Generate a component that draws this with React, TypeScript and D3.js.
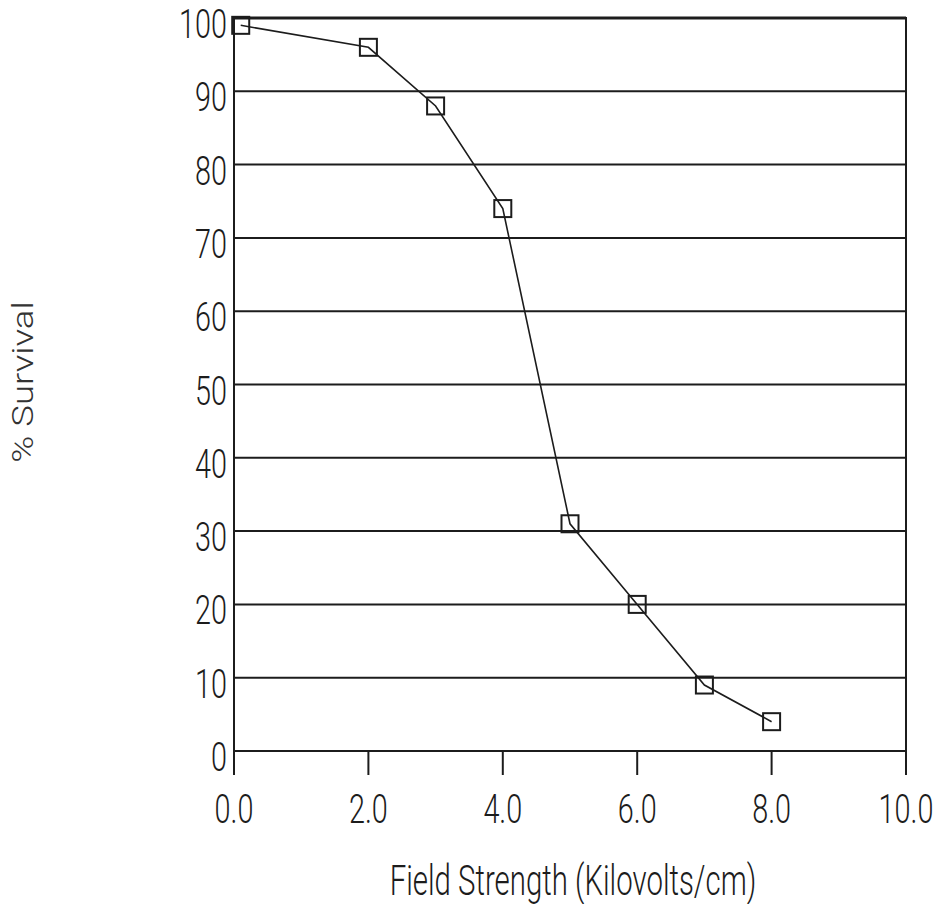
import React from "react";
import * as d3 from "d3";

const fieldStrength = [0.1, 2, 3, 4, 5, 6, 7, 8];
const survival = [99, 96, 88, 74, 31, 20, 9, 4];
const yTicks = [0, 10, 20, 30, 40, 50, 60, 70, 80, 90, 100];
const xTicks = [0, 2, 4, 6, 8, 10];
const xTitle = "Field Strength (Kilovolts/cm)";
const yTitle = "% Survival";

const W = 938;
const H = 904;
const FONT = "Roboto, 'DejaVu Sans', sans-serif";
const INK = "#1c1c1c";

export default function App() {
  const x = d3.scaleLinear().domain([0, 10]).range([234, 906]);
  const y = d3.scaleLinear().domain([0, 100]).range([751, 18]);
  const data = fieldStrength.map((f, i) => ({ f, s: survival[i] }));
  const line = d3
    .line<{ f: number; s: number }>()
    .x((d) => x(d.f))
    .y((d) => y(d.s));
  const sq = 17;
  const tickBottom = 775;

  return (
    <svg
      width={W}
      height={H}
      style={{ position: "absolute", left: 0, top: 0, background: "#fff" }}
    >
      <rect x={0} y={0} width={W} height={H} fill="#fff" />
      {yTicks.map((t) => (
        <line
          key={"g" + t}
          x1={x(0)}
          x2={x(10)}
          y1={y(t)}
          y2={y(t)}
          stroke={INK}
          strokeWidth={t === 100 ? 3 : 2}
        />
      ))}
      <line x1={x(0)} x2={x(0)} y1={y(100) - 1} y2={tickBottom} stroke={INK} strokeWidth={2} />
      <line x1={x(10)} x2={x(10)} y1={y(100) - 1} y2={tickBottom} stroke={INK} strokeWidth={2} />
      {xTicks.map((t) => (
        <line key={"t" + t} x1={x(t)} x2={x(t)} y1={y(0)} y2={tickBottom} stroke={INK} strokeWidth={2} />
      ))}
      {yTicks.map((t) => (
        <text
          key={"yl" + t}
          transform={`translate(${227},${y(t) + 20}) scale(0.72,1)`}
          textAnchor="end"
          fontFamily={FONT}
          fontWeight={300}
          fontSize={40}
          fill={INK}
        >
          {t}
        </text>
      ))}
      {xTicks.map((t) => (
        <text
          key={"xl" + t}
          transform={`translate(${x(t)},${823}) scale(0.72,1)`}
          textAnchor="middle"
          fontFamily={FONT}
          fontWeight={300}
          fontSize={40}
          fill={INK}
        >
          {d3.format(".1f")(t)}
        </text>
      ))}
      <path d={line(data) || ""} fill="none" stroke={INK} strokeWidth={1.6} />
      {data.map((d, i) => (
        <rect
          key={"p" + i}
          x={x(d.f) - sq / 2}
          y={y(d.s) - sq / 2}
          width={sq}
          height={sq}
          fill="none"
          stroke={INK}
          strokeWidth={2}
        />
      ))}
      <text
        transform={`translate(${573},${895}) scale(0.7,1)`}
        textAnchor="middle"
        fontFamily={FONT}
        fontWeight={300}
        fontSize={42}
        fill={INK}
      >
        {xTitle}
      </text>
      <text
        transform={`translate(${33},${382}) rotate(-90) scale(1.22,1)`}
        textAnchor="middle"
        fontFamily={FONT}
        fontWeight={300}
        fontSize={30}
        fill="#333"
      >
        {yTitle}
      </text>
    </svg>
  );
}
